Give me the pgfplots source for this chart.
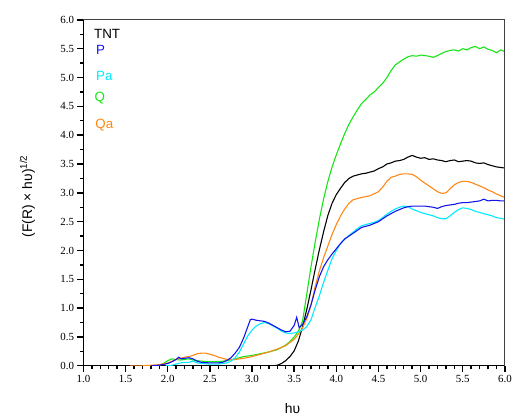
\documentclass[border=0pt]{standalone}
\usepackage{fontspec}
\setmainfont{Liberation Serif}
\newfontfamily\arial{Liberation Sans}
\usepackage{pgfplots}
\pgfplotsset{compat=1.18}
\definecolor{cP}{RGB}{20,20,240}
\definecolor{cPa}{RGB}{0,235,255}
\definecolor{cQ}{RGB}{20,230,20}
\definecolor{cQa}{RGB}{255,135,20}
\begin{document}
\begin{tikzpicture}
\begin{axis}[
  scale only axis, width=424bp, height=348bp,
  xmin=1, xmax=6, ymin=0, ymax=6,
  axis x line*=bottom, axis y line*=left,
  xtick={1,1.5,...,6.01}, ytick={0,0.5,...,6.01},
  minor x tick num=4, minor y tick num=1,
  xtick align=outside, ytick align=outside,
  major tick length=6bp, minor tick length=3.5bp,
  xtick style={draw=black, line width=1.4pt},
  ytick style={draw=black, line width=1.4pt},
  axis line style={black, line width=1.2pt, -},
  xticklabel={\pgfmathprintnumber[fixed,fixed zerofill,precision=1,assume math mode=true]{\tick}},
  yticklabel={\pgfmathprintnumber[fixed,fixed zerofill,precision=1,assume math mode=true]{\tick}},
  ticklabel style={font=\fontsize{11}{13}\selectfont},
  xlabel={\arial h\symbol{"03C5}},
  ylabel={\arial (F(R) \symbol{"00D7} h\symbol{"03C5})\textsuperscript{1/2}},
  label style={font=\fontsize{14}{16}\selectfont},
  xlabel style={at={(axis description cs:0.496,-0.124)}, anchor=center},
  ylabel style={at={(axis description cs:-0.133,0.49)}, anchor=center},
  clip mode=individual,
]
\addplot[black, line width=1.1pt] coordinates {(3.25,0) (3.3,0.01) (3.35,0.04) (3.4,0.09) (3.45,0.16) (3.5,0.26) (3.55,0.43) (3.6,0.68) (3.65,0.98) (3.7,1.32) (3.75,1.68) (3.8,2.02) (3.85,2.33) (3.9,2.61) (3.95,2.82) (4.0,2.97) (4.05,3.08) (4.1,3.18) (4.15,3.25) (4.2,3.29) (4.25,3.31) (4.3,3.33) (4.35,3.34) (4.4,3.36) (4.45,3.38) (4.5,3.42) (4.55,3.45) (4.6,3.50) (4.65,3.52) (4.7,3.55) (4.75,3.56) (4.8,3.58) (4.85,3.62) (4.9,3.65) (4.95,3.62) (5.0,3.60) (5.05,3.61) (5.1,3.58) (5.15,3.59) (5.2,3.57) (5.25,3.56) (5.3,3.54) (5.35,3.56) (5.4,3.57) (5.45,3.54) (5.5,3.55) (5.55,3.56) (5.6,3.55) (5.65,3.52) (5.7,3.51) (5.75,3.52) (5.8,3.49) (5.85,3.47) (5.9,3.45) (5.95,3.44) (6.0,3.43)};
\addplot[cQ, line width=1.1pt] coordinates {(1.85,0) (1.9,0.01) (1.95,0.04) (2.0,0.09) (2.05,0.12) (2.1,0.11) (2.15,0.10) (2.2,0.11) (2.25,0.12) (2.3,0.10) (2.4,0.08) (2.5,0.07) (2.6,0.07) (2.7,0.09) (2.8,0.12) (2.9,0.16) (3.0,0.18) (3.1,0.21) (3.2,0.24) (3.3,0.28) (3.4,0.36) (3.45,0.42) (3.5,0.50) (3.55,0.60) (3.6,0.78) (3.65,1.25) (3.7,1.72) (3.75,2.15) (3.8,2.55) (3.85,2.90) (3.9,3.20) (3.95,3.45) (4.0,3.66) (4.05,3.85) (4.1,4.03) (4.15,4.19) (4.2,4.32) (4.25,4.44) (4.3,4.55) (4.35,4.62) (4.4,4.70) (4.45,4.75) (4.5,4.83) (4.55,4.90) (4.6,5.00) (4.65,5.12) (4.7,5.22) (4.75,5.27) (4.8,5.32) (4.85,5.36) (4.9,5.38) (4.95,5.37) (5.0,5.39) (5.05,5.38) (5.1,5.37) (5.15,5.35) (5.2,5.38) (5.25,5.42) (5.3,5.45) (5.35,5.47) (5.4,5.48) (5.45,5.46) (5.5,5.50) (5.55,5.48) (5.6,5.52) (5.65,5.54) (5.7,5.50) (5.75,5.53) (5.8,5.49) (5.85,5.47) (5.9,5.43) (5.95,5.48) (6.0,5.45)};
\addplot[cQa, line width=1.1pt] coordinates {(1.55,0) (1.7,0) (1.8,0.01) (1.9,0.02) (2.0,0.05) (2.05,0.08) (2.1,0.11) (2.15,0.13) (2.2,0.15) (2.25,0.16) (2.3,0.18) (2.35,0.21) (2.4,0.22) (2.45,0.22) (2.5,0.20) (2.55,0.18) (2.6,0.15) (2.65,0.13) (2.7,0.11) (2.8,0.11) (2.9,0.13) (3.0,0.16) (3.1,0.20) (3.2,0.24) (3.3,0.29) (3.4,0.35) (3.5,0.46) (3.55,0.55) (3.6,0.66) (3.65,0.82) (3.7,1.05) (3.75,1.38) (3.8,1.65) (3.85,1.88) (3.9,2.08) (3.95,2.28) (4.0,2.45) (4.05,2.60) (4.1,2.72) (4.15,2.82) (4.2,2.88) (4.25,2.90) (4.3,2.92) (4.4,2.95) (4.5,3.02) (4.55,3.10) (4.6,3.20) (4.65,3.27) (4.7,3.29) (4.75,3.32) (4.8,3.33) (4.85,3.33) (4.9,3.32) (4.95,3.28) (5.0,3.22) (5.05,3.17) (5.1,3.12) (5.15,3.07) (5.2,3.02) (5.25,2.99) (5.3,3.00) (5.35,3.07) (5.4,3.14) (5.45,3.18) (5.5,3.20) (5.55,3.20) (5.6,3.18) (5.65,3.15) (5.7,3.12) (5.75,3.09) (5.8,3.05) (5.85,3.02) (5.9,2.98) (5.95,2.95) (6.0,2.92)};
\addplot[cPa, line width=1.1pt] coordinates {(1.98,0) (2.05,0.01) (2.1,0.03) (2.15,0.05) (2.2,0.06) (2.25,0.06) (2.3,0.08) (2.35,0.05) (2.4,0.04) (2.5,0.03) (2.6,0.03) (2.7,0.05) (2.75,0.08) (2.8,0.14) (2.85,0.24) (2.9,0.38) (2.95,0.52) (3.0,0.62) (3.05,0.69) (3.1,0.73) (3.15,0.75) (3.2,0.73) (3.25,0.69) (3.3,0.65) (3.35,0.60) (3.4,0.57) (3.45,0.56) (3.5,0.57) (3.55,0.59) (3.6,0.62) (3.65,0.68) (3.7,0.80) (3.75,1.02) (3.8,1.22) (3.85,1.45) (3.9,1.66) (3.95,1.86) (4.0,2.00) (4.05,2.12) (4.1,2.20) (4.15,2.26) (4.2,2.32) (4.25,2.38) (4.3,2.43) (4.35,2.45) (4.4,2.47) (4.45,2.49) (4.5,2.52) (4.55,2.57) (4.6,2.63) (4.65,2.68) (4.7,2.72) (4.75,2.75) (4.8,2.77) (4.85,2.76) (4.9,2.72) (4.95,2.69) (5.0,2.66) (5.05,2.64) (5.1,2.62) (5.15,2.60) (5.2,2.57) (5.25,2.55) (5.3,2.55) (5.35,2.60) (5.4,2.66) (5.45,2.71) (5.5,2.74) (5.55,2.73) (5.6,2.71) (5.65,2.68) (5.7,2.66) (5.75,2.64) (5.8,2.62) (5.85,2.60) (5.9,2.57) (5.95,2.56) (6.0,2.54)};
\addplot[cP, line width=1.1pt] coordinates {(1.8,0) (1.9,0.01) (2.0,0.04) (2.05,0.07) (2.1,0.11) (2.13,0.15) (2.16,0.12) (2.2,0.13) (2.25,0.14) (2.3,0.12) (2.35,0.08) (2.4,0.06) (2.5,0.05) (2.6,0.05) (2.65,0.06) (2.7,0.09) (2.75,0.14) (2.8,0.22) (2.85,0.32) (2.9,0.48) (2.95,0.68) (2.98,0.80) (3.0,0.81) (3.05,0.79) (3.1,0.78) (3.15,0.77) (3.2,0.74) (3.25,0.70) (3.3,0.66) (3.35,0.62) (3.4,0.59) (3.45,0.60) (3.5,0.70) (3.53,0.84) (3.56,0.66) (3.6,0.72) (3.65,0.85) (3.7,1.06) (3.75,1.32) (3.8,1.55) (3.85,1.72) (3.9,1.84) (3.95,1.94) (4.0,2.03) (4.05,2.12) (4.1,2.20) (4.15,2.25) (4.2,2.30) (4.25,2.35) (4.3,2.40) (4.35,2.42) (4.4,2.44) (4.45,2.47) (4.5,2.50) (4.55,2.55) (4.6,2.60) (4.65,2.64) (4.7,2.68) (4.75,2.71) (4.8,2.74) (4.85,2.76) (4.9,2.77) (4.95,2.77) (5.0,2.77) (5.05,2.77) (5.1,2.76) (5.15,2.75) (5.2,2.73) (5.25,2.76) (5.3,2.78) (5.35,2.79) (5.4,2.80) (5.45,2.82) (5.5,2.83) (5.55,2.83) (5.6,2.84) (5.65,2.85) (5.7,2.86) (5.75,2.89) (5.8,2.86) (5.85,2.87) (5.9,2.87) (5.95,2.86) (6.0,2.86)};
\draw[black!75, line width=0.9pt] (rel axis cs:0,1) -- (rel axis cs:1,1) -- (rel axis cs:1,0);
\node[anchor=west, font=\arial\fontsize{13.5}{15}\selectfont, black] at (rel axis cs:0.017,0.96) {TNT};
\node[anchor=west, font=\arial\fontsize{13.5}{15}\selectfont, cP] at (rel axis cs:0.022,0.914) {P};
\node[anchor=west, font=\arial\fontsize{13.5}{15}\selectfont, cPa] at (rel axis cs:0.022,0.839) {Pa};
\node[anchor=west, font=\arial\fontsize{13.5}{15}\selectfont, cQ] at (rel axis cs:0.018,0.773) {Q};
\node[anchor=west, font=\arial\fontsize{13.5}{15}\selectfont, cQa] at (rel axis cs:0.020,0.695) {Qa};
\path (rel axis cs:-0.198,-0.1466) rectangle (rel axis cs:1.0165,1.0575);
\end{axis}
\end{tikzpicture}
\end{document}
